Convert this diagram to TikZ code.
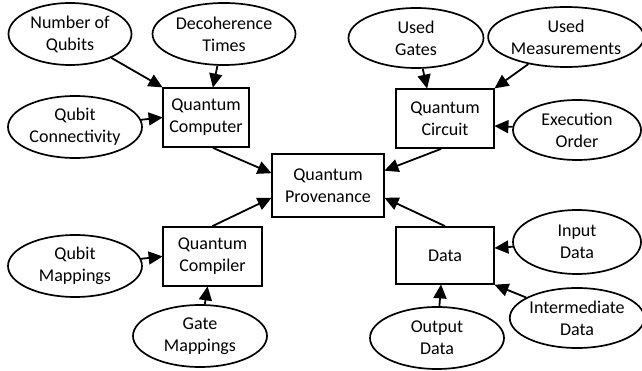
\documentclass[tikz,border=0pt]{standalone}
\usepackage{fontspec}
\setmainfont{Carlito}
\usetikzlibrary{shapes.geometric,arrows.meta}
\tikzset{
  box/.style={draw, line width=1.8pt, align=center, inner sep=0pt,
    font=\fontsize{18}{22}\selectfont},
  attr/.style={draw, ellipse, line width=1.7pt, align=center, inner sep=0pt,
    font=\fontsize{18}{22}\selectfont},
  link/.style={line width=1.8pt, -{Triangle[length=14pt,width=13pt]}, shorten >=-0.5pt}
}
\begin{document}
\begin{tikzpicture}[x=1pt,y=-1pt]
\useasboundingbox (0,0) rectangle (642,371);

% central node and the four aspects
\node[box, minimum width=112pt, minimum height=63pt] (prov) at (328,185.5) {Quantum\\Provenance};
\node[box, minimum width=86pt, minimum height=59pt] (qc) at (206,117.5) {Quantum\\Computer};
\node[box, minimum width=98pt, minimum height=59pt] (circ) at (445,118.5) {Quantum\\Circuit};
\node[box, minimum width=99pt, minimum height=59pt] (comp) at (212.5,256.5) {Quantum\\Compiler};
\node[box, minimum width=98pt, minimum height=57pt] (data) at (445,255.5) {Data};

% attributes
\node[attr, minimum width=123pt, minimum height=62pt] (nq) at (70,34) {Number of\\Qubits};
\node[attr, minimum width=143pt, minimum height=62pt] (dt) at (224,34) {Decoherence\\Times};
\node[attr, minimum width=134pt, minimum height=62pt] (qcon) at (75,127) {Qubit\\Connectivity};
\node[attr, minimum width=135pt, minimum height=60pt] (ug) at (416,38) {Used\\Gates};
\node[attr, minimum width=136pt, minimum height=60pt] (um) at (566,37) {Used\\Measurements};
\node[attr, minimum width=128pt, minimum height=60pt] (eo) at (577,130) {Execution\\Order};
\node[attr, minimum width=134pt, minimum height=62pt] (qm) at (75,266) {Qubit\\Mappings};
\node[attr, minimum width=134pt, minimum height=62pt] (gm) at (200,336) {Gate\\Mappings};
\node[attr, minimum width=128pt, minimum height=64pt] (id) at (577,242) {Input\\Data};
\node[attr, minimum width=128pt, minimum height=60pt] (imd) at (577,318) {Intermediate\\Data};
\node[attr, minimum width=134pt, minimum height=62pt] (od) at (437,338) {Output\\Data};

% attribute links
\draw[link] (nq) -- (qc.north west);
\draw[link] (dt) -- ([xshift=7pt]qc.north);
\draw[link] (qcon) -- (qc.west);
\draw[link] (ug) -- ([xshift=-18pt]circ.north);
\draw[link] (um) -- (circ.north east);
\draw[link] (eo) -- ([yshift=-7.5pt]circ.east);
\draw[link] (qm) -- (comp.west);
\draw[link] (gm) -- ([xshift=-5pt]comp.south);
\draw[link] (id) -- ([yshift=7.5pt]data.east);
\draw[link] (imd) -- (data.south east);
\draw[link] (od) -- ([xshift=-4pt]data.south);

% aspects into provenance
\draw[link] ([xshift=7pt]qc.south) -- ([yshift=12.5pt]prov.west);
\draw[link] ([xshift=-4pt]circ.south) -- ([yshift=15pt]prov.east);
\draw[link] (comp.north) -- ([yshift=-12.5pt]prov.west);
\draw[link] (data.north) -- ([yshift=-12.5pt]prov.east);
\end{tikzpicture}
\end{document}
